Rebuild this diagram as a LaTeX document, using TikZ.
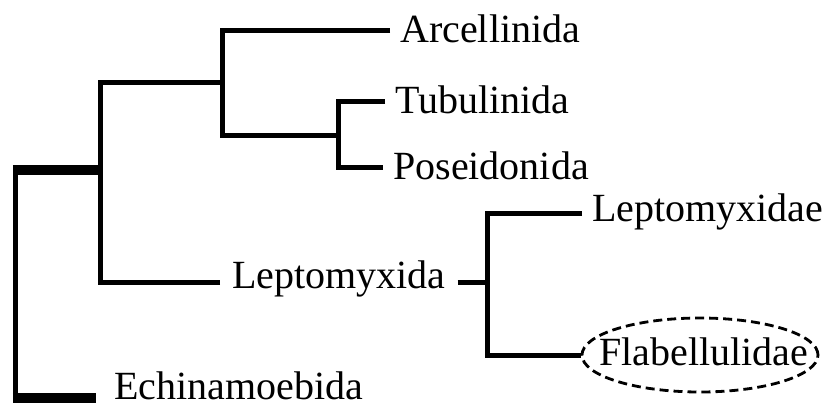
\documentclass[tikz,border=0pt]{standalone}
\usepackage{fontspec}
\setmainfont{Liberation Serif}
\usetikzlibrary{shapes.geometric}
\tikzset{
  br/.style={line width=5pt, line join=miter, line cap=butt},
  thickh/.style={line width=10pt, line cap=butt},
  thickv/.style={line width=5.5pt, line cap=butt},
  leaf/.style={anchor=west, inner xsep=10pt, inner ysep=0pt, text height=28pt, text depth=4pt,
    font=\fontsize{40pt}{48pt}\selectfont},
  circled/.style={ellipse, draw, line width=2.8pt, dash pattern=on 9pt off 5pt,
    minimum width=236pt, minimum height=74pt, inner sep=0pt},
  ctext/.style={inner sep=0pt, text height=26pt, text depth=6pt,
    font=\fontsize{40pt}{48pt}\selectfont}
}
\begin{document}
\begin{tikzpicture}[x=1pt,y=-1pt]
\useasboundingbox (0,0) rectangle (827,407);
% leaves
\node[leaf] (arc) at (390,30) {Arcellinida};
\node[leaf] (tub) at (385,101.5) {Tubulinida};
\node[leaf] (pos) at (383,167) {Poseidonida};
\node[leaf, inner xsep=12pt, text height=22pt, text depth=10pt] (lepx) at (220,282) {Leptomyxida};
\node[leaf, text height=24pt, text depth=8pt] (lepe) at (582,213) {Leptomyxidae};
\node[circled] (fla) at (700,355) {};
\node[ctext] (flat) at (704,355) {Flabellulidae};
\node[leaf, inner xsep=18pt, text height=2pt, text depth=0pt] (ech) at (96,398) {Echinamoebida};
% internal points
\coordinate (root) at (15.5,170);
\coordinate (rootb) at (15.5,398);
\coordinate (j1) at (100,170);
\coordinate (n1) at (100,82);
\coordinate (n2) at (222,82);
\coordinate (n3) at (338,135);
\coordinate (n4) at (487,282);
% thick root
\draw[thickv] ([yshift=-5pt]root) -- ([yshift=5pt]rootb);
\draw[thickh] ([xshift=-2.75pt]root) -- ([xshift=2.5pt]j1);
\draw[thickh] ([xshift=-2.75pt]rootb) -- (ech.west);
% branches
\draw[br] (lepx.west) -| (n1) -- (n2);
\draw[br] (arc.west) -| (n2) |- (n3);
\draw[br] (tub.west) -| (n3) |- (pos.west);
\draw[br] (lepx.east) -- (n4);
\draw[br] (lepe.west) -| (n4) |- (fla.west);
\end{tikzpicture}
\end{document}
